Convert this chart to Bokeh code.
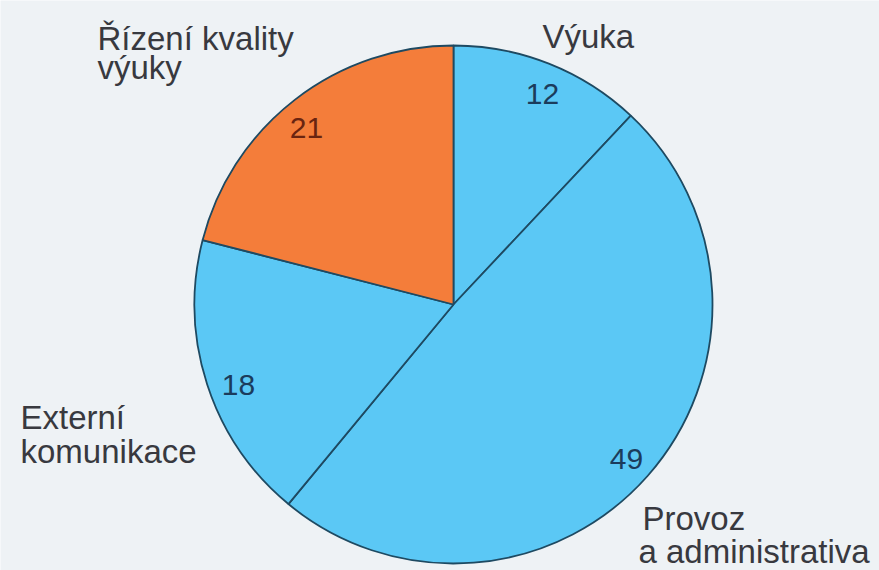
import math
from bokeh.plotting import figure
from bokeh.models import Range1d, ColumnDataSource
from bokeh.embed import file_html
from bokeh.resources import INLINE
from bokeh.core.properties import value

# ---- data ----
categories = ["Výuka", "Provoz a administrativa", "Externí komunikace", "Řízení kvality výuky"]
values = [12, 49, 18, 21]
label_lines = [["Výuka"], ["Provoz", "a administrativa"], ["Externí", "komunikace"], ["Řízení kvality", "výuky"]]
colors = ["#5BC8F5", "#5BC8F5", "#5BC8F5", "#F47D3A"]
num_colors = ["#1B3C5C", "#1B3C5C", "#1B3C5C", "#6A2410"]

# ---- layout (page pixels, y = centre of capital letters) ----
W, H = 879, 570
CX, CY, R = 453, 304, 259
label_pos = [[(542, 36)], [(642, 518), (638, 551)], [(20, 417), (20, 451)], [(97, 38), (97, 67)]]
num_pos = [(542, 93), (626, 458), (238, 384), (306, 127)]

BG = "#EEF2F5"

p = figure(width=W, height=H, output_backend="svg", toolbar_location=None,
           x_range=Range1d(0, W), y_range=Range1d(-H, 0),
           min_border=0, background_fill_color=BG, border_fill_color=BG)
p.axis.visible = False
p.grid.visible = False
p.outline_line_color = None

total = float(sum(values))
starts, ends = [], []
acc = 0.0
for v in values:
    a0 = math.pi / 2 - 2 * math.pi * (acc + v) / total
    a1 = math.pi / 2 - 2 * math.pi * acc / total
    starts.append(a0)
    ends.append(a1)
    acc += v

src = ColumnDataSource(dict(x=[CX] * len(values), y=[-CY] * len(values),
                            start=starts, end=ends, color=colors, cat=categories))
p.wedge(x="x", y="y", radius=R, start_angle="start", end_angle="end",
        fill_color="color", line_color="#1E4A62", line_width=1.8, source=src)

# category labels
lx, ly, lt = [], [], []
for lines, pos in zip(label_lines, label_pos):
    for t, (x, y) in zip(lines, pos):
        lx.append(x); ly.append(-y); lt.append(t)
p.text(x=lx, y=ly, text=lt, text_font=value("Liberation Sans"), text_font_size="33px",
       text_color="#38393F", text_baseline="middle", text_align="left")

# values
nx = [x for x, y in num_pos]
ny = [-y for x, y in num_pos]
p.text(x=nx, y=ny, text=[str(v) for v in values], text_font=value("Liberation Sans"),
       text_font_size="30px", text_color=num_colors, text_baseline="middle", text_align="center")

html = file_html(p, INLINE)
html = html.replace("<body>", '<body style="background:%s;">' % BG, 1)
open("out.html", "w").write(html)
